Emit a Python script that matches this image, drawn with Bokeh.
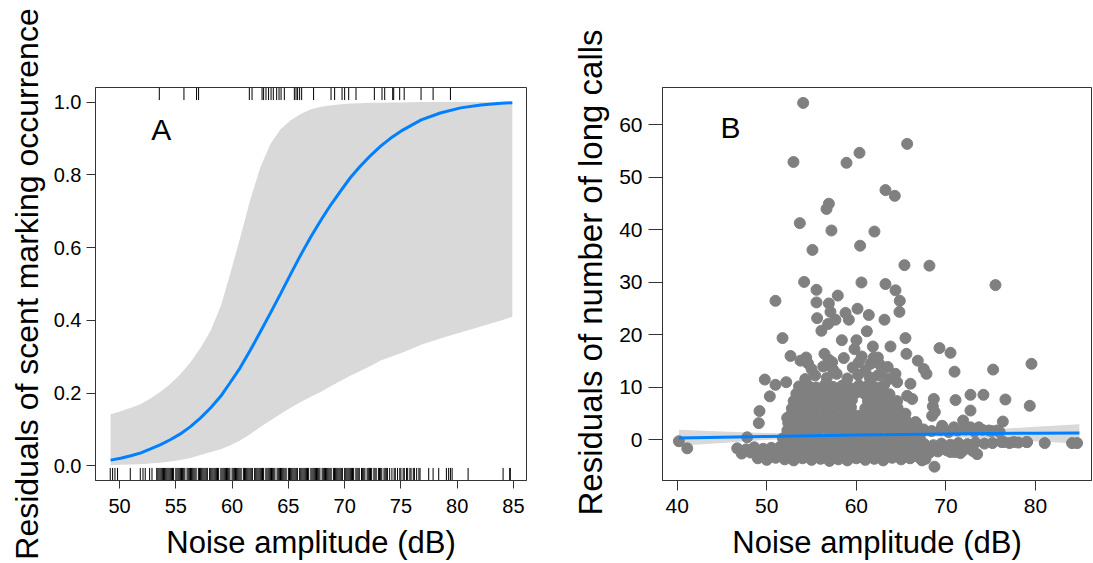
from bokeh.plotting import figure
from bokeh.layouts import row
from bokeh.models import Range1d, Label, FixedTicker, NumeralTickFormatter, Title
from bokeh.embed import file_html
from bokeh.resources import INLINE

FONT = "Liberation Sans"

# ---------------- Panel A data ----------------
a_x = [49.2, 50.1, 51.0, 51.9, 52.7, 53.6, 54.5, 55.4, 56.3, 57.2, 58.1, 59.0, 59.8, 60.7,
       61.6, 62.5, 63.4, 64.3, 65.2, 66.1, 67.0, 67.9, 68.8, 69.7, 70.5, 71.4, 72.3, 73.2,
       74.1, 75.0, 76.8, 78.5, 80.3, 82.1, 83.9, 84.9]
a_fit = [0.016, 0.021, 0.028, 0.036, 0.046, 0.058, 0.072, 0.088, 0.108, 0.132, 0.160, 0.192,
         0.228, 0.269, 0.317, 0.368, 0.420, 0.473, 0.527, 0.580, 0.630, 0.676, 0.719, 0.758,
         0.792, 0.824, 0.853, 0.879, 0.901, 0.920, 0.951, 0.970, 0.984, 0.992, 0.997, 0.998]
a_upper = [0.142, 0.150, 0.160, 0.170, 0.185, 0.203, 0.225, 0.252, 0.285, 0.325, 0.372, 0.440,
           0.525, 0.625, 0.730, 0.820, 0.885, 0.925, 0.950, 0.967, 0.980, 0.987, 0.991, 0.994,
           0.996, 0.997, 0.998, 0.998, 0.999, 0.999, 1.0, 1.0, 1.0, 1.0, 1.0, 1.0]
a_lower = [0.002, 0.003, 0.004, 0.005, 0.007, 0.009, 0.012, 0.016, 0.022, 0.030, 0.038, 0.046,
           0.056, 0.070, 0.087, 0.107, 0.125, 0.143, 0.160, 0.176, 0.190, 0.204, 0.220, 0.235,
           0.248, 0.261, 0.275, 0.290, 0.300, 0.310, 0.333, 0.350, 0.367, 0.383, 0.400, 0.410]

# rug of noise amplitudes where scent marking occurred (top) / did not occur (bottom)
rug_top = [53.53, 55.72, 56.84, 57.02, 61.53, 61.77, 62.66, 62.80, 63.01, 63.24, 63.46, 63.66,
           63.96, 64.17, 64.35, 64.64, 65.53, 65.68, 65.82, 66.00, 66.18, 67.24, 68.79, 69.11,
           69.77, 70.00, 70.36, 71.01, 72.64, 73.32, 73.56, 74.27, 74.36, 74.89, 75.29, 76.79,
           77.86, 79.40]
rug_bottom = [49.17, 49.38, 49.59, 49.82, 50.95, 51.84, 52.08, 52.28, 52.67, 52.88,
              53.3, 53.4, 53.5, 53.6, 53.7, 53.8, 53.9,
              54.0, 54.1, 54.2, 54.3, 54.4, 54.5, 54.6, 54.7, 54.8,
              55.0, 55.1, 55.2, 55.3, 55.4, 55.5, 55.6, 55.7, 55.8,
              56.0, 56.1, 56.2, 56.3, 56.4, 56.5, 56.6, 56.7, 56.8,
              57.0, 57.1, 57.2, 57.3, 57.4, 57.5, 57.6, 57.7, 57.8,
              58.0, 58.1, 58.2, 58.3, 58.4, 58.5, 58.6, 58.7, 58.8,
              59.0, 59.1, 59.2, 59.3, 59.4, 59.5, 59.6, 59.7, 59.8,
              60.0, 60.1, 60.2, 60.3, 60.4, 60.5, 60.6, 60.7, 60.8,
              61.0, 61.1, 61.2, 61.3, 61.4, 61.5, 61.6, 61.7, 61.8,
              62.0, 62.1, 62.2, 62.3, 62.4, 62.5, 62.6, 62.7, 62.8,
              63.0, 63.1, 63.2, 63.3, 63.4, 63.5, 63.6, 63.7, 63.8,
              64.0, 64.1, 64.2, 64.3, 64.4, 64.5, 64.6, 64.7, 64.8,
              65.0, 65.1, 65.2, 65.3, 65.4, 65.5, 65.6, 65.7, 65.8,
              66.0, 66.1, 66.2, 66.3, 66.4, 66.5, 66.6, 66.7, 66.8,
              67.0, 67.1, 67.2, 67.3, 67.4, 67.5, 67.6, 67.7, 67.8,
              68.0, 68.1, 68.2, 68.3, 68.4, 68.5, 68.6, 68.7, 68.8,
              69.0, 69.1, 69.2, 69.3, 69.4, 69.5, 69.6, 69.7, 69.8,
              70.0, 70.1, 70.2, 70.3, 70.4, 70.5, 70.6, 70.7, 70.8,
              71.0, 71.1, 71.2, 71.3, 71.5, 71.6, 71.7, 71.8, 72.0, 72.1, 72.2, 72.3, 72.4,
              72.6, 72.7, 72.8, 73.0, 73.1, 73.2, 73.3, 73.5, 73.6, 73.7, 73.8,
              74.0, 74.2, 74.4, 74.5, 74.7, 74.9, 75.0, 75.2, 75.3, 75.5, 75.6, 75.8,
              75.9, 76.1, 76.2, 76.4, 76.6, 76.7,
              77.47, 77.86, 78.36, 79.04, 79.24, 79.40, 79.55, 80.97, 84.08, 84.67, 84.72]

a_xticks = [50, 55, 60, 65, 70, 75, 80, 85]
a_yticks = [0.0, 0.2, 0.4, 0.6, 0.8, 1.0]

# ---------------- Panel B data ----------------
out_x = [54.06, 65.67, 60.35, 52.98, 58.90, 63.25, 64.29, 56.93, 56.67, 53.69, 57.22, 62.02,
         55.10, 60.42, 65.37, 68.16, 54.17, 60.57, 75.53, 63.25, 64.37, 55.55, 57.93, 50.97,
         55.55, 56.93, 64.85, 64.81, 60.13, 61.39, 58.79, 57.11, 57.67, 55.62, 59.16, 63.14,
         56.85, 56.10, 61.17, 58.38, 60.01, 59.79, 65.48, 63.81, 61.84, 65.59, 51.76, 52.65,
         53.76, 54.40, 56.44, 57.30, 60.28, 61.95, 61.58, 62.40, 66.86, 67.53, 67.83, 69.28,
         70.51, 70.96, 75.27, 79.55, 49.78, 50.97, 52.17, 50.34, 49.19, 49.11, 52.28, 79.36,
         76.64, 76.35, 74.19, 72.74, 71.07, 72.74, 71.92, 68.65, 68.54, 68.76, 68.46, 66.04,
         65.67, 66.23, 64.55, 66.60, 65.48, 64.37, 64.55, 63.62, 62.40, 61.58, 40.19, 41.12,
         81.03, 84.08, 84.64, 68.72, 73.48, 71.62, 70.51, 70.88, 69.58, 72.74, 73.67, 74.79,
         75.72, 76.46, 77.57, 79.06, 67.53, 67.72, 67.34, 47.81]
out_y = [64.2, 56.4, 54.7, 52.95, 52.8, 47.6, 46.5, 45.0, 44.0, 41.3, 39.9, 39.7,
         36.2, 37.0, 33.3, 33.2, 30.1, 30.0, 29.5, 29.7, 28.5, 28.6, 27.5, 26.5,
         26.2, 26.0, 26.5, 24.4, 25.0, 23.8, 24.2, 24.4, 22.9, 23.2, 22.9, 22.9,
         22.1, 20.8, 20.7, 19.0, 19.0, 17.3, 19.4, 17.8, 17.8, 16.4, 19.4, 16.0,
         15.1, 15.7, 16.4, 14.8, 14.8, 15.7, 14.5, 15.7, 15.1, 13.5, 12.6, 17.5,
         16.6, 13.0, 13.4, 14.5, 11.5, 10.5, 11.0, 8.3, 5.5, 3.2, 4.2, 6.5,
         7.7, 3.5, 8.6, 8.6, 7.6, 5.6, 3.7, 7.8, 6.4, 5.3, 4.6, 10.7,
         8.4, 7.8, 7.4, 3.4, 5.0, 12.6, 11.0, 11.6, 12.3, 11.6, -0.25, -1.6,
         -0.6, -0.6, -0.6, -5.1, -2.7, -2.5, -2.3, 2.4, 2.7, 2.4, 2.4, 1.8,
         1.8, -0.4, -0.4, -0.4, 1.8, -3.6, -3.9, 0.5]

cl_x = [46.7, 47.7, 48.6, 49.6, 50.5, 51.5, 52.4, 53.4, 54.3, 55.3, 56.2, 57.2, 58.1, 59.1,
        60.0, 61.0, 61.9, 62.9, 63.8, 64.8, 65.7, 66.7, 67.6, 68.6, 69.5, 70.5, 71.4, 72.4,
        73.3, 74.3, 75.2, 76.2, 77.1, 78.1, 79.0,
        47.2, 48.2, 49.2, 50.1, 51.1, 52.0, 53.0, 53.9, 54.9, 55.8, 56.8, 57.7, 58.7, 59.6,
        60.6, 61.5, 62.5, 63.4, 64.4, 65.3, 66.3, 67.2, 68.2, 69.1, 70.1, 71.0, 72.0, 73.0,
        49.0, 50.0, 51.0, 52.0, 53.0, 54.0, 55.0, 56.0, 57.0, 58.0, 59.0, 60.0, 61.0, 62.0,
        63.0, 64.0, 65.0, 66.0, 67.0,
        51.8, 52.8, 53.8, 54.7, 55.7, 56.6, 57.6, 58.5, 59.5, 60.4, 61.4, 62.3, 63.3, 64.2,
        65.2, 66.1, 67.1,
        52.3, 53.2, 54.2, 55.1, 56.1, 57.0, 58.0, 58.9, 59.9, 60.8, 61.8, 62.7, 63.7, 64.6,
        65.6, 66.5, 67.5, 68.4, 69.4, 70.3, 71.3, 72.2, 73.2, 74.1, 75.1, 76.0,
        52.4, 53.4, 54.3, 55.3, 56.2, 57.2, 58.1, 59.1, 60.0, 61.0, 61.9, 62.9, 63.8, 64.8,
        65.7, 66.7,
        52.6, 53.5, 54.5, 55.4, 56.4, 57.3, 58.3, 59.2, 60.2, 61.1, 62.1, 63.0, 64.0, 64.9,
        52.8, 53.7, 54.7, 55.6, 56.6, 57.5, 58.5, 59.4, 61.0, 61.9, 62.9, 63.8, 64.6,
        53.0, 53.9, 54.9, 55.8, 56.8, 57.7, 58.7, 59.5, 61.3, 62.2, 63.2, 64.1,
        53.3, 54.2, 55.2, 56.1, 57.1, 58.0, 59.0, 60.0, 60.9, 61.9, 62.8, 63.7,
        53.6, 54.6, 55.5, 56.5, 57.4, 58.4, 59.3, 60.3, 61.2, 62.2, 63.1,
        54.3, 55.4, 56.7, 57.8, 59.0, 60.2, 61.5, 62.8, 55.0, 56.3, 57.4, 59.6, 61.0, 63.5,
        54.6, 56.9, 58.6, 60.6, 62.6]
cl_y = [-1.6, -1.8, -1.4, -1.7, -1.5, -1.3, -1.6, -1.2, -1.4, -1.1, -1.5, -1.2, -1.3, -1.0,
        -1.4, -1.2, -1.1, -1.3, -1.0, -1.2, -0.9, -1.1, -0.8, -1.0, -0.7, -0.9, -0.6, -0.8,
        -0.5, -0.7, -0.6, -0.4, -0.6, -0.5, -0.4,
        -2.6, -2.4, -2.7, -2.3, -2.5, -2.8, -2.4, -2.6, -2.2, -2.7, -2.5, -2.3, -2.6, -2.4,
        -2.8, -2.5, -2.3, -2.6, -2.4, -2.7, -2.2, -2.5, -2.4, -2.2, -2.0, -2.3, -1.9, -2.1,
        -3.5, -3.8, -3.4, -3.7, -3.9, -3.5, -3.8, -3.6, -4.0, -3.7, -3.9, -3.5, -3.8, -3.6,
        -3.9, -3.4, -3.7, -3.5, -3.3,
        0.3, 0.1, 0.5, 0.2, 0.4, 0.0, 0.3, 0.6, 0.1, 0.4, 0.2, 0.5, 0.0, 0.3, 0.4, 0.1, 0.2,
        1.8, 2.0, 1.6, 1.9, 2.2, 1.7, 1.9, 2.1, 1.6, 2.0, 1.8, 2.2, 1.7, 1.9, 2.1, 1.6,
        2.0, 1.7, 1.9, 1.5, 1.8, 2.0, 1.6, 1.9, 1.7, 1.5,
        3.2, 3.4, 3.0, 3.5, 3.1, 3.3, 3.6, 3.0, 3.4, 3.2, 3.5, 3.1, 3.3, 3.0, 3.4, 3.2,
        4.6, 4.8, 4.4, 4.9, 4.5, 4.7, 4.3, 4.8, 4.6, 4.4, 4.9, 4.5, 4.7, 4.6,
        6.0, 6.2, 5.8, 6.3, 5.9, 6.1, 5.7, 6.2, 6.0, 5.8, 6.3, 5.9, 6.1,
        7.4, 7.6, 7.2, 7.7, 7.3, 7.5, 7.1, 7.6, 7.4, 7.2, 7.7, 7.3,
        8.8, 9.0, 8.6, 9.1, 8.7, 8.9, 8.5, 9.0, 8.8, 8.6, 9.1, 8.7,
        10.2, 10.4, 10.0, 10.5, 10.1, 10.3, 9.9, 10.4, 10.2, 10.0, 10.5,
        11.6, 12.3, 11.8, 12.6, 11.7, 12.4, 11.9, 12.8, 13.5, 14.0, 13.4, 13.8, 13.2, 13.9,
        14.6, 15.3, 15.6, 15.9, 14.4]

b_x = [40.2, 45.0, 50.0, 55.0, 60.0, 65.0, 70.0, 75.0, 80.0, 84.9]
b_fit = [0.35, 0.50, 0.65, 0.80, 0.92, 1.02, 1.12, 1.22, 1.29, 1.33]
b_upper = [1.95, 1.60, 1.30, 1.20, 1.25, 1.35, 1.60, 2.00, 2.50, 3.00]
b_lower = [-1.10, -0.60, 0.00, 0.40, 0.60, 0.70, 0.60, 0.20, -0.30, -0.70]

b_xticks = [40, 50, 60, 70, 80]
b_yticks = [0, 10, 20, 30, 40, 50, 60]

BLUE = "#0080FF"
BAND = "#D9D9D9"
FRAME = "#333333"


def style(p, xticks, yticks, tick_px, x_tick, y_tick, yfmt=None):
    p.xgrid.visible = False
    p.ygrid.visible = False
    p.outline_line_color = FRAME
    p.outline_line_width = 1
    p.background_fill_color = "white"
    p.border_fill_color = "white"
    p.xaxis.ticker = FixedTicker(ticks=xticks)
    p.yaxis.ticker = FixedTicker(ticks=yticks)
    if yfmt:
        p.yaxis.formatter = NumeralTickFormatter(format=yfmt)
    for ax in (p.xaxis[0], p.yaxis[0]):
        ax.axis_line_color = FRAME
        ax.major_tick_line_color = FRAME
        ax.minor_tick_line_color = None
        ax.major_tick_in = 0
        ax.major_label_text_font = FONT
        ax.major_label_text_font_size = tick_px
        ax.major_label_text_color = "black"
        ax.axis_label_text_font = FONT
        ax.axis_label_text_font_style = "normal"
        ax.axis_label_text_color = "black"
    p.xaxis.major_tick_out = x_tick
    p.yaxis.major_tick_out = y_tick


# ---------------- Panel A ----------------
ya0, ya1 = -0.04, 1.04
pA = figure(width=560, height=563, x_range=Range1d(47.86, 86.16), y_range=Range1d(ya0, ya1),
            output_backend="svg", toolbar_location=None,
            min_border_left=95, min_border_right=34, min_border_top=87, min_border_bottom=83)
style(pA, a_xticks, a_yticks, "20px", 8, 9, yfmt="0.0")
pA.xaxis.axis_label = "Noise amplitude (dB)"
pA.xaxis.axis_label_text_font_size = "31px"
pA.xaxis.major_label_standoff = 10
pA.xaxis.axis_label_standoff = 9
pA.yaxis.axis_label = "Residuals of scent marking occurrence"
pA.yaxis.axis_label_text_font_size = "32px"
pA.yaxis.major_label_standoff = 5
pA.yaxis.axis_label_standoff = 6

pA.varea(x=a_x, y1=a_lower, y2=a_upper, fill_color=BAND)
pA.line(x=a_x, y=a_fit, line_color=BLUE, line_width=3)
rug_len = (ya1 - ya0) * 0.032
pA.segment(x0=rug_top, x1=rug_top, y0=[ya1] * len(rug_top), y1=[ya1 - rug_len] * len(rug_top),
           line_color="black", line_width=1)
pA.segment(x0=rug_bottom, x1=rug_bottom, y0=[ya0] * len(rug_bottom),
           y1=[ya0 + rug_len] * len(rug_bottom), line_color="black", line_width=1)
pA.add_layout(Label(x=53.7, y=0.925, text="A", text_align="center", text_baseline="middle",
                    text_font=FONT, text_font_size="30px", text_color="black"))

# ---------------- Panel B ----------------
xb0, xb1 = 38.36, 86.25
pB = figure(width=533, height=563, x_range=Range1d(xb0, xb1), y_range=Range1d(-7.73, 67.14),
            output_backend="svg", toolbar_location=None,
            min_border_left=102, min_border_right=2, min_border_top=87, min_border_bottom=83)
style(pB, b_xticks, b_yticks, "21px", 10, 14)
pB.xaxis.axis_label = "Noise amplitude (dB)"
pB.xaxis.axis_label_text_font_size = "31px"
pB.xaxis.major_label_standoff = 8
pB.xaxis.axis_label_standoff = 9
pB.yaxis.major_label_standoff = 6

pB.varea(x=b_x, y1=b_lower, y2=b_upper, fill_color=BAND)
pB.scatter(x=cl_x, y=cl_y, size=11, fill_color="#808080", line_color="#808080")
pB.scatter(x=out_x, y=out_y, size=11, fill_color="#808080", line_color="#808080")
pB.line(x=b_x, y=b_fit, line_color=BLUE, line_width=3)
pB.add_layout(Label(x=45.95, y=59.5, text="B", text_align="center", text_baseline="middle",
                    text_font=FONT, text_font_size="30px", text_color="black"))
# y-axis title of panel B: starts a little below the frame bottom, as in the original
pB.add_layout(Title(text="Residuals of number of long calls", align="left", offset=-35,
                    standoff=16, text_font=FONT, text_font_size="33px",
                    text_font_style="normal", text_color="black"), "left")

layout = row(pA, pB)
open("out.html", "w").write(file_html(layout, INLINE))
